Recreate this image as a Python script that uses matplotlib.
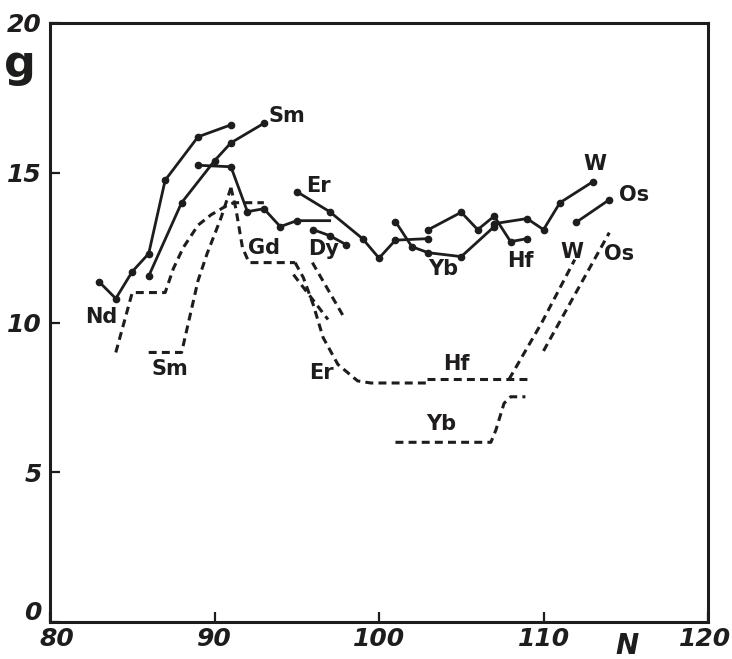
import matplotlib
matplotlib.use("Agg")
import matplotlib.pyplot as plt
import matplotlib.transforms as mtransforms

# --- measured curves (solid, with points) ---
nd_N = [83, 84, 85, 86, 87, 89, 91]
nd_g = [11.35, 10.8, 11.7, 12.3, 14.75, 16.2, 16.6]

sm_N = [86, 88, 90, 91, 93]
sm_g = [11.55, 14.0, 15.4, 16.0, 16.65]

gd_N = [89, 91, 92, 93, 94, 95, 97]
gd_g = [15.25, 15.2, 13.7, 13.8, 13.2, 13.4, 13.4]

dy_N = [96, 97, 98]
dy_g = [13.1, 12.9, 12.6]

er_N = [95, 97, 99, 100, 101, 103]
er_g = [14.37, 13.7, 12.8, 12.15, 12.75, 12.8]

yb_N = [101, 102, 103, 105, 107]
yb_g = [13.37, 12.53, 12.33, 12.2, 13.2]

hf_N = [103, 105, 106, 107, 108, 109]
hf_g = [13.1, 13.68, 13.1, 13.55, 12.7, 12.8]

w_N = [107, 109, 110, 111, 113]
w_g = [13.3, 13.47, 13.1, 14.0, 14.7]

os_N = [112, 114]
os_g = [13.35, 14.1]

# --- theoretical curves (dashed) ---
ndt_N = [84, 85, 87, 87.5, 88.1, 89.0, 89.8, 90.8, 91.2, 93]
ndt_g = [9.0, 11.0, 11.0, 11.8, 12.5, 13.25, 13.6, 13.92, 14.0, 14.0]

smt_N = [86, 88, 88.5, 89.0, 89.55, 90.4, 91.0]
smt_g = [9.0, 9.0, 10.2, 11.4, 12.3, 13.5, 14.5]

gdt_N = [91.0, 91.3, 91.7, 92.1, 94.9]
gdt_g = [14.5, 13.8, 12.5, 12.0, 12.0]

ert_N = [94.9, 95.4, 96.0, 96.6, 97.5, 98.7, 99.5, 102.9]
ert_g = [12.0, 11.5, 10.6, 9.5, 8.6, 8.05, 7.98, 7.98]

dy1t_N = [94.8, 96.9]
dy1t_g = [11.6, 10.1]

dy2t_N = [95.95, 97.95]
dy2t_g = [12.0, 10.1]

hft_N = [102.9, 109]
hft_g = [8.12, 8.12]

ybt_N = [101, 106.8, 107.1, 107.6, 108.0, 108.9]
ybt_g = [6.0, 6.0, 6.4, 7.3, 7.52, 7.52]

wt_N = [107.9, 109.9, 111.9]
wt_g = [8.1, 10.0, 12.1]

ost_N = [110.0, 114.0]
ost_g = [9.05, 13.0]

# label texts and where they sit
labels = ["Nd", "Sm", "Sm", "Er", "Gd", "Dy", "Er", "Yb", "Hf", "W", "Os",
          "W", "Os", "Hf", "Yb"]
label_N = [83.1, 94.4, 87.3, 96.3, 93.0, 96.6, 96.5, 103.9, 108.6, 113.1,
           115.5, 111.7, 114.6, 104.7, 103.8]
label_g = [10.2, 16.9, 8.45, 14.55, 12.5, 12.45, 8.3, 11.8, 12.05, 15.3,
           14.25, 12.35, 12.3, 8.6, 6.6]

ink = "#1f1c1c"

fig = plt.figure(figsize=(7.32, 6.59), dpi=100)
ax = fig.add_axes([50 / 732, 37 / 659, 658 / 732, 599 / 659])

solid = [(nd_N, nd_g), (sm_N, sm_g), (dy_N, dy_g), (er_N, er_g),
         (yb_N, yb_g), (hf_N, hf_g), (w_N, w_g), (os_N, os_g)]
for xs, ys in solid:
    ax.plot(xs, ys, color=ink, lw=2.0, marker="o", ms=4.5)
ax.plot(gd_N, gd_g, color=ink, lw=2.0, marker="o", ms=4.5,
        markevery=list(range(len(gd_N) - 1)))

dashed = [(ndt_N, ndt_g), (smt_N, smt_g), (gdt_N, gdt_g), (ert_N, ert_g),
          (dy1t_N, dy1t_g), (dy2t_N, dy2t_g), (hft_N, hft_g),
          (ybt_N, ybt_g), (wt_N, wt_g), (ost_N, ost_g)]
for xs, ys in dashed:
    ax.plot(xs, ys, color=ink, lw=2.2, dashes=(2.6, 1.7))

for t, x, y in zip(labels, label_N, label_g):
    ax.text(x, y, t, fontsize=15, fontweight="bold", color=ink,
            ha="center", va="center")

ax.set_xlim(80, 120)
ax.set_ylim(0, 20)
ax.set_xticks([80, 90, 100, 110, 120])
ax.set_yticks([0, 5, 10, 15, 20])
ax.tick_params(direction="in", length=7, width=1.6, labelsize=18,
               colors=ink)
ax.tick_params(axis="y", pad=6)
for sp in ax.spines.values():
    sp.set_linewidth(2.2)
    sp.set_color(ink)

# settle the tick labels, then style them and nudge the corner ones apart
fig.canvas.draw()
for lab in ax.get_xticklabels() + ax.get_yticklabels():
    lab.set_fontweight("bold")
    lab.set_fontstyle("italic")
ylab0 = ax.get_yticklabels()[0]
ylab0.set_transform(ylab0.get_transform() +
                    mtransforms.ScaledTranslation(0, 0.11, fig.dpi_scale_trans))
xlab0 = ax.get_xticklabels()[0]
xlab0.set_transform(xlab0.get_transform() +
                    mtransforms.ScaledTranslation(0.07, 0, fig.dpi_scale_trans))
xlab4 = ax.get_xticklabels()[-1]
xlab4.set_transform(xlab4.get_transform() +
                    mtransforms.ScaledTranslation(-0.03, 0, fig.dpi_scale_trans))

ax.text(78.2, 18.6, "g", fontsize=32, fontweight="bold", color=ink,
        ha="center", va="center", clip_on=False)
ax.text(115.1, -0.8, "N", fontsize=20, fontweight="bold", style="italic",
        color=ink, ha="center", va="center", clip_on=False)

fig.savefig("out.png", dpi=100)
